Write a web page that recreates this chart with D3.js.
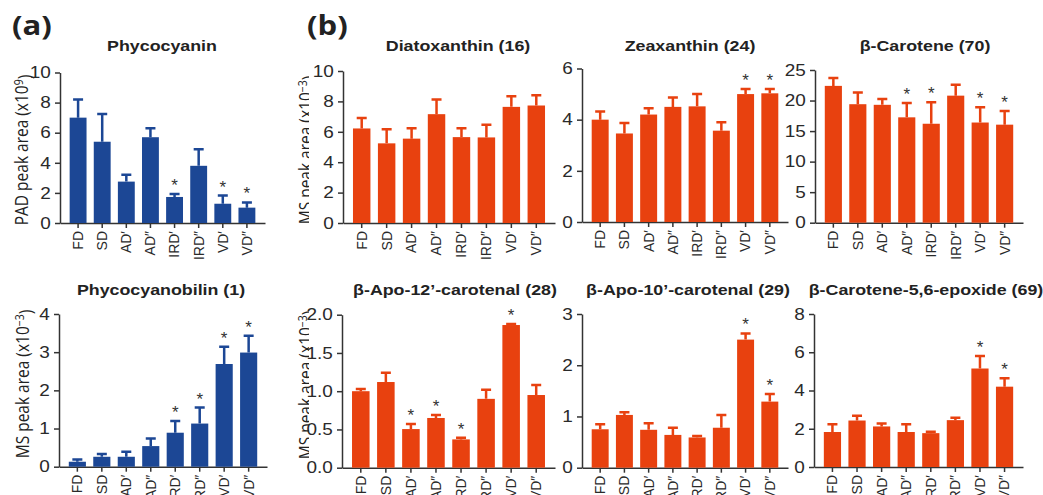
<!DOCTYPE html>
<html>
<head>
<meta charset="utf-8">
<script src="https://cdn.jsdelivr.net/npm/d3@7"></script>
<style>
  body { margin: 0; background: #fff; }
  svg { display: block; }
  .tick text { fill: #2a2a2a; }
  .domain, .tick line { stroke: #333; }
</style>
</head>
<body>
<script>
// groups on the x axis
const groups = ["FD", "SD", "AD\u2032", "AD\u2033", "IRD\u2032", "IRD\u2033", "VD\u2032", "VD\u2033"];

// (a) pigments
const phycocyaninMean = [7.0, 5.4, 2.75, 5.7, 1.73, 3.8, 1.28, 1.02];
const phycocyaninSd   = [1.2, 1.85, 0.45, 0.6, 0.2, 1.1, 0.54, 0.35];
const phycocyaninSig  = [4, 6, 7];

const phycocyanobilinMean = [0.13, 0.26, 0.26, 0.54, 0.89, 1.13, 2.69, 2.99];
const phycocyanobilinSd   = [0.06, 0.07, 0.13, 0.2, 0.31, 0.42, 0.45, 0.44];
const phycocyanobilinSig  = [4, 5, 6, 7];

// (b) carotenoids
const diatoxanthinMean = [6.22, 5.24, 5.55, 7.16, 5.65, 5.63, 7.64, 7.73];
const diatoxanthinSd   = [0.68, 0.92, 0.69, 0.96, 0.59, 0.83, 0.7, 0.67];
const diatoxanthinSig  = [];

const zeaxanthinMean = [4.0, 3.46, 4.2, 4.5, 4.52, 3.57, 5.0, 5.03];
const zeaxanthinSd   = [0.32, 0.41, 0.25, 0.37, 0.48, 0.33, 0.2, 0.17];
const zeaxanthinSig  = [6, 7];

const caroteneMean = [22.4, 19.4, 19.3, 17.25, 16.2, 20.8, 16.4, 16.05];
const caroteneSd   = [1.3, 1.9, 0.95, 2.35, 3.5, 1.8, 2.5, 2.25];
const caroteneSig  = [3, 4, 6, 7];

const apo12Mean = [1.0, 1.12, 0.505, 0.65, 0.37, 0.9, 1.865, 0.95];
const apo12Sd   = [0.03, 0.12, 0.065, 0.04, 0.02, 0.12, 0.015, 0.13];
const apo12Sig  = [2, 3, 4, 6];

const apo10Mean = [0.75, 1.03, 0.74, 0.64, 0.59, 0.78, 2.5, 1.29];
const apo10Sd   = [0.1, 0.05, 0.13, 0.14, 0.03, 0.25, 0.12, 0.15];
const apo10Sig  = [6, 7];

const epoxideMean = [1.83, 2.43, 2.12, 1.83, 1.77, 2.45, 5.15, 4.2];
const epoxideSd   = [0.4, 0.25, 0.16, 0.4, 0.07, 0.12, 0.65, 0.44];
const epoxideSig  = [6, 7];

const blue = "#1c4795";
const orange = "#e8410f";
const SX = 1.15;   // the figure is a little wider than tall
const font = "'Liberation Sans', Arial, sans-serif";
const labelFont = "'Open Sans', sans-serif";

const svg = d3.select("body").append("svg")
    .attr("width", 1043)
    .attr("height", 495);

// the (b) axis titles are partly hidden behind the tick labels
svg.append("clipPath").attr("id", "labelclip")
    .append("rect").attr("x", 0).attr("y", 0).attr("width", 309).attr("height", 495);

function drawPanel(p) {
    const x = d3.scaleBand()
        .domain(groups)
        .range([p.x0, p.x1])
        .paddingInner(0.3)
        .paddingOuter(0.4);
    const y = d3.scaleLinear()
        .domain([0, p.max])
        .range([p.yBase, p.yTop]);

    const g = svg.append("g");

    // y label
    if (p.ylabel) {
        const t = g.append("g")
            .attr("clip-path", p.clip ? "url(#labelclip)" : null)
            .append("text")
            .attr("transform", "translate(" + p.lx + "," + p.ly + ") scale(" + SX + ",1) rotate(-90)")
            .attr("text-anchor", "middle")
            .attr("dy", "0.35em")
            .attr("font-family", labelFont)
            .attr("font-size", 15.5)
            .attr("fill", "#222");
        t.append("tspan").text(p.ylabel[0]);
        t.append("tspan").attr("dy", "-0.45em").attr("font-size", 10.5).text(p.ylabel[1]);
        t.append("tspan").attr("dy", "0.45em").text(")");
    }

    // y axis
    g.append("g")
        .attr("transform", "translate(" + p.x0 + ",0)")
        .call(d3.axisLeft(y)
            .tickValues(d3.range(0, p.max + p.step / 2, p.step))
            .tickFormat(p.fmt || d3.format("d"))
            .tickSizeInner(5)
            .tickSizeOuter(0)
            .tickPadding(3))
        .call(a => a.selectAll(".domain, line").attr("stroke-width", 1.5))
        .call(a => a.selectAll("text")
            .attr("font-family", font)
            .attr("font-size", 16.5)
            .attr("transform", "scale(" + SX + ",1)"));

    // x axis
    g.append("g")
        .attr("transform", "translate(0," + p.yBase + ")")
        .call(d3.axisBottom(x)
            .tickSizeInner(5)
            .tickSizeOuter(0)
            .tickPadding(4))
        .call(a => a.selectAll(".domain, line").attr("stroke-width", 1.5))
        .call(a => a.selectAll("text")
            .attr("font-family", font)
            .attr("font-size", 14)
            .attr("text-anchor", "end")
            .attr("transform", "rotate(-90)")
            .attr("x", -8)
            .attr("y", 0)
            .attr("dy", "0.35em"));

    const data = groups.map((k, i) => ({k: k, m: p.mean[i], s: p.sd[i], sig: p.sig.includes(i)}));

    // bars
    g.selectAll(".bar").data(data).enter().append("rect")
        .attr("x", d => x(d.k))
        .attr("width", x.bandwidth())
        .attr("y", d => y(d.m))
        .attr("height", d => y(0) - y(d.m))
        .attr("fill", p.color);

    // error bars, upper half only
    const cap = 5;
    g.selectAll(".err").data(data).enter().append("path")
        .attr("d", d => {
            const cx = x(d.k) + x.bandwidth() / 2;
            return "M" + cx + "," + y(d.m) + "V" + y(d.m + d.s) +
                "M" + (cx - cap) + "," + y(d.m + d.s) + "H" + (cx + cap);
        })
        .attr("stroke", p.color)
        .attr("stroke-width", 2.5)
        .attr("fill", "none");

    // significance stars
    g.selectAll(".star").data(data.filter(d => d.sig)).enter().append("text")
        .attr("x", d => x(d.k) + x.bandwidth() / 2)
        .attr("y", d => y(d.m + d.s) - 3)
        .attr("text-anchor", "middle")
        .attr("font-family", font)
        .attr("font-size", 17)
        .attr("fill", "#333")
        .text("*");

    // title
    g.append("text")
        .attr("transform", "translate(" + p.tx + "," + p.ty + ") scale(" + SX + ",1)")
        .attr("text-anchor", "middle")
        .attr("font-family", font)
        .attr("font-weight", "bold")
        .attr("font-size", 15.5)
        .attr("fill", "#222")
        .text(p.title);
}

const pad = ["PAD peak area (x10", "9"];
const ms = ["MS peak area  (x10", "\u22123"];

drawPanel({x0: 60, x1: 265, yBase: 223, yTop: 72.5, max: 10, step: 2,
    mean: phycocyaninMean, sd: phycocyaninSd, sig: phycocyaninSig, color: blue,
    title: "Phycocyanin", tx: 162, ty: 51, ylabel: pad, lx: 22, ly: 150});
drawPanel({x0: 343, x1: 555, yBase: 223, yTop: 71, max: 10, step: 2,
    mean: diatoxanthinMean, sd: diatoxanthinSd, sig: diatoxanthinSig, color: orange,
    title: "Diatoxanthin (16)", tx: 458, ty: 51, ylabel: ms, lx: 306, ly: 150, clip: true});
drawPanel({x0: 582, x1: 788, yBase: 222, yTop: 68.5, max: 6, step: 2,
    mean: zeaxanthinMean, sd: zeaxanthinSd, sig: zeaxanthinSig, color: orange,
    title: "Zeaxanthin (24)", tx: 690, ty: 51});
drawPanel({x0: 815, x1: 1023, yBase: 222.7, yTop: 70, max: 25, step: 5,
    mean: caroteneMean, sd: caroteneSd, sig: caroteneSig, color: orange,
    title: "\u03b2-Carotene (70)", tx: 925, ty: 51});

drawPanel({x0: 59, x1: 267, yBase: 466.7, yTop: 314, max: 4, step: 1,
    mean: phycocyanobilinMean, sd: phycocyanobilinSd, sig: phycocyanobilinSig, color: blue,
    title: "Phycocyanobilin (1)", tx: 161, ty: 295, ylabel: ms, lx: 23, ly: 384});
drawPanel({x0: 342, x1: 555, yBase: 467.7, yTop: 314.7, max: 2, step: 0.5, fmt: d3.format(".1f"),
    mean: apo12Mean, sd: apo12Sd, sig: apo12Sig, color: orange,
    title: "\u03b2-Apo-12\u2019-carotenal (28)", tx: 455, ty: 295, ylabel: ms, lx: 306, ly: 385, clip: true});
drawPanel({x0: 582, x1: 788, yBase: 467.7, yTop: 314, max: 3, step: 1,
    mean: apo10Mean, sd: apo10Sd, sig: apo10Sig, color: orange,
    title: "\u03b2-Apo-10\u2019-carotenal (29)", tx: 688, ty: 295});
drawPanel({x0: 814, x1: 1023, yBase: 467, yTop: 314, max: 8, step: 2,
    mean: epoxideMean, sd: epoxideSd, sig: epoxideSig, color: orange,
    title: "\u03b2-Carotene-5,6-epoxide (69)", tx: 926, ty: 295});

// panel letters
[["(a)", 12, 35], ["(b)", 307, 35]].forEach(d => {
    svg.append("text")
        .attr("transform", "translate(" + d[1] + "," + d[2] + ") scale(" + SX + ",1)")
        .attr("font-family", labelFont)
        .attr("font-weight", "bold")
        .attr("font-size", 27)
        .attr("fill", "#222")
        .text(d[0]);
});
</script>
</body>
</html>
